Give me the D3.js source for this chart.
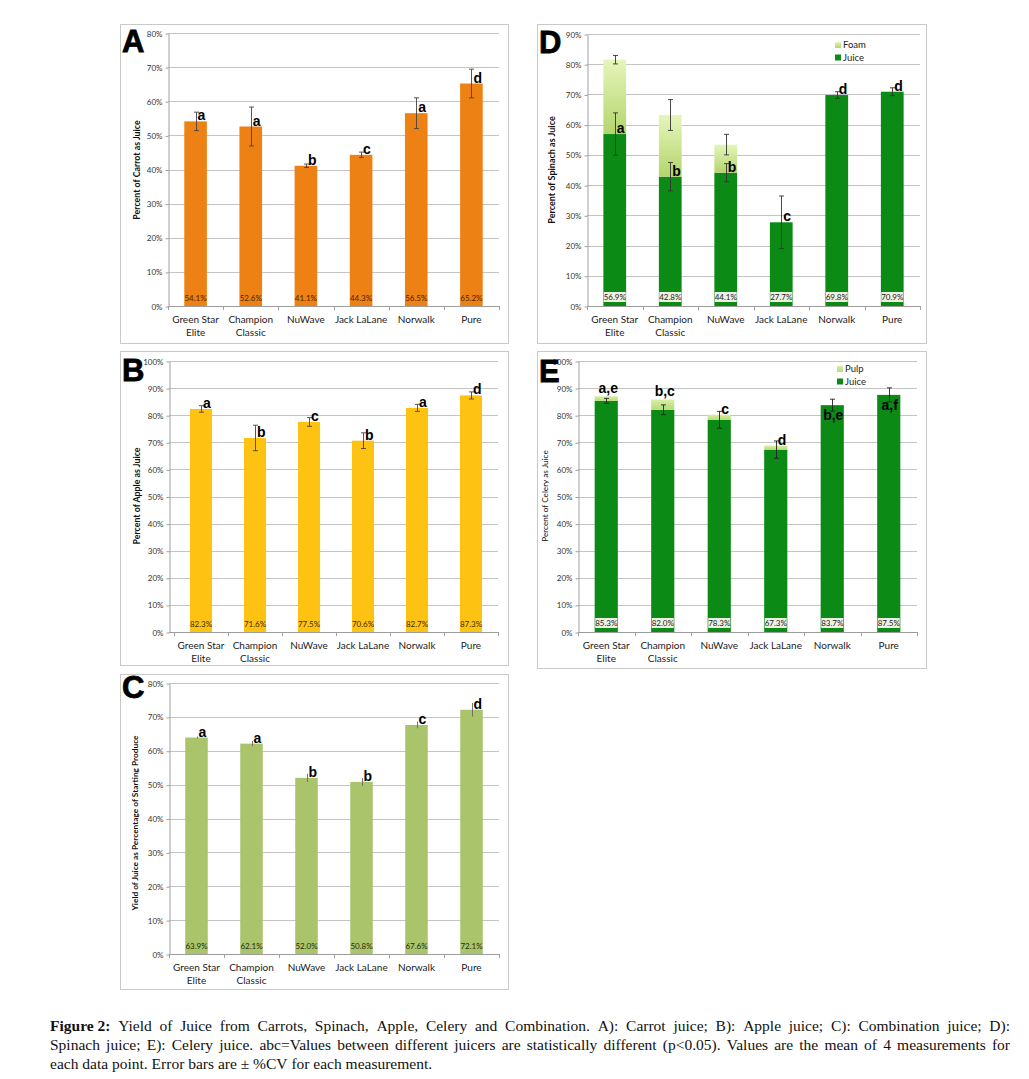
<!DOCTYPE html>
<html><head><meta charset="utf-8">
<script src="https://cdn.jsdelivr.net/npm/d3@7"></script>
<style>body{margin:0;background:#fff} svg{display:block}</style>
</head><body><svg id="fig" width="1029" height="1079"></svg>
<script>
// ---------- data ----------
const juicers = [["Green Star","Elite"],["Champion","Classic"],["NuWave"],["Jack LaLane"],["Norwalk"],["Pure"]];
const ticks80 = [0,10,20,30,40,50,60,70,80];
const ticks90 = [0,10,20,30,40,50,60,70,80,90];
const ticks100 = [0,10,20,30,40,50,60,70,80,90,100];

const carrotJuice = [54.1,52.6,41.1,44.3,56.5,65.2];
const carrotErr = [2.7,5.7,0.5,0.8,4.5,4.2];
const carrotLetters = ["a","a","b","c","a","d"];

const appleJuice = [82.3,71.6,77.5,70.6,82.7,87.3];
const appleErr = [1.2,4.7,1.6,2.9,1.3,1.3];
const appleLetters = ["a","b","c","b","a","d"];

const comboJuice = [63.9,62.1,52.0,50.8,67.6,72.1];
const comboErr = [0.3,0.8,1.2,1.1,1.0,2.0];
const comboLetters = ["a","a","b","b","c","d"];

const spinachJuice = [56.9,42.8,44.1,27.7,69.8,70.9];
const spinachJuiceErr = [7.0,4.7,3.0,8.7,1.1,1.3];
const spinachFoam = [24.6,20.4,9.3,0,0,0];
const spinachTotalErr = [1.4,5.1,3.4,0,0,0];
const spinachLetters = ["a","b","b","c","d","d"];

const celeryJuice = [85.3,82.0,78.3,67.3,83.7,87.5];
const celeryJuiceErr = [0.9,1.8,3.1,3.2,2.2,2.6];
const celeryPulp = [1.7,3.8,1.9,1.5,0,0];
const celeryLetters = ["a,e","b,c","c","d","b,e","a,f"];

const captionBold = "Figure 2:";
const captionLines = [
  "Yield of Juice from Carrots, Spinach, Apple, Celery and Combination. A): Carrot juice; B): Apple juice; C): Combination juice; D):",
  "Spinach juice; E): Celery juice. abc=Values between different juicers are statistically different (p<0.05). Values are the mean of 4 measurements for",
  "each data point. Error bars are \u00b1 %CV for each measurement."
];

// ---------- drawing ----------
const svg = d3.select("#fig");
const FONT = "Lato, 'Open Sans', sans-serif";
const defs = svg.append("defs");
function grad(id, top, bottom){
  const g = defs.append("linearGradient").attr("id",id).attr("x1",0).attr("y1",0).attr("x2",0).attr("y2",1);
  g.append("stop").attr("offset","0%").attr("stop-color",top);
  g.append("stop").attr("offset","100%").attr("stop-color",bottom);
}
grad("foamGrad","#e6f5bb","#b3d56c");
grad("pulpGrad","#d8efa8","#b6db78");

function panel(o){
  const g = svg.append("g");
  g.append("rect").attr("x",o.frame[0]+0.5).attr("y",o.frame[1]+0.5)
    .attr("width",o.frame[2]).attr("height",o.frame[3])
    .attr("fill","#fff").attr("stroke","#c9c9c9").attr("stroke-width",1);

  const x = d3.scaleBand().domain(d3.range(juicers.length)).range(o.xr);
  const y = d3.scaleLinear().domain([0,o.ymax]).range([o.y0,o.ytop]);
  const cx = i => x(i) + x.bandwidth()/2;
  const bw = x.bandwidth()*0.41;

  // gridlines
  g.selectAll(".grid").data(o.ticks.filter(t=>t>0)).join("line")
    .attr("x1",o.axisX).attr("x2",o.xr[1])
    .attr("y1",d=>Math.round(y(d))+0.5).attr("y2",d=>Math.round(y(d))+0.5)
    .attr("stroke","#c4c4c4").attr("stroke-width",1);

  // y axis
  const ya = d3.axisLeft(y).tickValues(o.ticks).tickFormat(d=>d+"%").tickSize(3).tickSizeOuter(0).tickPadding(3);
  const yg = g.append("g").attr("transform",`translate(${o.axisX+0.5},0.5)`).call(ya);
  yg.select(".domain").attr("stroke","#a0a0a0");
  yg.selectAll(".tick line").attr("stroke","#a0a0a0");
  yg.selectAll("text").attr("font-family",FONT).attr("font-size",8).attr("fill","#333");

  // x axis line + boundary ticks
  g.append("line").attr("x1",o.axisX).attr("x2",o.xr[1])
    .attr("y1",Math.round(o.y0)+0.5).attr("y2",Math.round(o.y0)+0.5)
    .attr("stroke","#9c9c9c");
  g.selectAll(".xt").data(d3.range(juicers.length+1)).join("line")
    .attr("x1",i=>Math.round(o.xr[0]+i*x.step())+0.5).attr("x2",i=>Math.round(o.xr[0]+i*x.step())+0.5)
    .attr("y1",o.y0).attr("y2",o.y0+4).attr("stroke","#a0a0a0");

  // category labels
  const cl = g.selectAll(".cat").data(juicers).join("text")
    .attr("font-family",FONT).attr("font-size",10).attr("fill","#222").attr("text-anchor","middle");
  cl.each(function(d,i){
    d3.select(this).selectAll("tspan").data(d).join("tspan")
      .attr("x",cx(i)).attr("y",(t,j)=>o.y0+17+j*12.5).text(t=>t);
  });

  // bars
  const base = o.values;
  g.selectAll(".bar").data(base).join("rect")
    .attr("x",(d,i)=>cx(i)-bw/2).attr("width",bw)
    .attr("y",d=>y(d)).attr("height",d=>o.y0-y(d)).attr("fill",o.color);
  if(o.top){
    g.selectAll(".bar2").data(o.top).join("rect")
      .attr("x",(d,i)=>cx(i)-bw/2).attr("width",bw)
      .attr("y",(d,i)=>y(base[i]+d)).attr("height",(d,i)=>y(base[i])-y(base[i]+d))
      .attr("fill",o.topFill).attr("display",d=>d>0?null:"none");
  }

  // value labels
  const vl = g.selectAll(".vl").data(base).join("g");
  if(o.labelBox){
    vl.append("rect").attr("x",(d,i)=>cx(i)-11).attr("width",22)
      .attr("y",o.y0-14).attr("height",10).attr("fill","#edf1e3");
  }
  vl.append("text").attr("x",(d,i)=>cx(i)).attr("y",o.y0-(o.labelBox?6.5:5))
    .attr("text-anchor","middle").attr("font-family",FONT).attr("font-size",8)
    .attr("fill",o.labelColor).text(d=>d.toFixed(1)+"%");

  // error bars
  function errbars(vals, errs, color, caps){
    const eg = g.append("g").attr("stroke",color).attr("stroke-width",0.9);
    vals.forEach((v,i)=>{
      const e = errs[i]; if(!e) return;
      const x0 = Math.round(cx(i))+0.5;
      eg.append("line").attr("x1",x0).attr("x2",x0).attr("y1",y(v-e)).attr("y2",y(v+e));
      if(caps){
        [v-e,v+e].forEach(t=>eg.append("line").attr("x1",x0-2.5).attr("x2",x0+2.5).attr("y1",y(t)).attr("y2",y(t)));
      }
    });
  }
  errbars(base, o.err, o.errColor, o.caps);
  if(o.topErr) errbars(base.map((v,i)=>v+o.top[i]), o.topErr, o.errColor, o.caps);

  // significance letters
  g.selectAll(".let").data(o.letters).join("text")
    .attr("font-family","'Liberation Sans', Arial, sans-serif").attr("font-weight","bold")
    .attr("font-size",14).attr("fill","#000")
    .each(function(d,i){
      const mode = o.letterModes ? o.letterModes[i] : "right";
      const ref = o.letterRef==="total" && o.top ? base[i]+o.top[i] : base[i];
      const t = d3.select(this).text(d);
      if(mode==="right") t.attr("x",cx(i)+2).attr("y",y(ref)-1).attr("text-anchor","start");
      else if(mode==="above") t.attr("x",cx(i)+2).attr("y",y(ref)-3).attr("text-anchor","middle");
      else t.attr("x",cx(i)+1).attr("y",y(ref)+15).attr("text-anchor","middle");
    });

  // y label
  g.append("text").attr("transform",`translate(${o.ylab[0]},${o.ylab[1]}) rotate(-90)`)
    .attr("text-anchor","middle").attr("font-family",FONT)
    .attr("font-weight",o.ylabBold?"bold":"normal").attr("font-size",o.ylabSize)
    .attr("fill","#111").text(o.ytitle);

  // legend
  if(o.legend){
    o.legend.forEach((l,k)=>{
      g.append("rect").attr("x",o.legendXY[0]).attr("y",o.legendXY[1]+k*12.5-6)
        .attr("width",6).attr("height",6).attr("fill",l[1]);
      g.append("text").attr("x",o.legendXY[0]+8).attr("y",o.legendXY[1]+k*12.5)
        .attr("font-family",FONT).attr("font-size",9.5).attr("fill","#222").text(l[0]);
    });
  }

  // panel letter
  g.append("text").attr("x",o.frame[0]+2).attr("y",o.bigY)
    .attr("font-family","'Liberation Sans', Arial, sans-serif").attr("font-weight","bold")
    .attr("font-size",31).attr("fill","#000").attr("stroke","#000").attr("stroke-width",0.8)
    .text(o.name);
}

panel({name:"A", frame:[120,24,388,319], axisX:168, xr:[168,499], y0:306, ytop:33, ymax:80, ticks:ticks80,
  values:carrotJuice, err:carrotErr, letters:carrotLetters, color:"#ee8114", labelColor:"#4a2200",
  errColor:"#444", caps:true, ytitle:"Percent of Carrot as Juice", ylab:[140,170], ylabBold:true, ylabSize:8.8, bigY:52});

panel({name:"B", frame:[120,351,388,314], axisX:169, xr:[174,498], y0:632, ytop:361, ymax:100, ticks:ticks100,
  values:appleJuice, err:appleErr, letters:appleLetters, color:"#fec212", labelColor:"#3d2c00",
  errColor:"#444", caps:true, ytitle:"Percent of Apple as Juice", ylab:[140,496], ylabBold:true, ylabSize:8.8, bigY:381});

panel({name:"C", frame:[120,674,388,315], axisX:169, xr:[169,499], y0:954, ytop:683, ymax:80, ticks:ticks80,
  values:comboJuice, err:comboErr, letters:comboLetters, color:"#a9c46b", labelColor:"#1f2a0a",
  errColor:"#666", caps:false, ytitle:"Yield of Juice as Percentage of Starting Produce", ylab:[138,823], ylabBold:true, ylabSize:8.3, bigY:698});

panel({name:"D", frame:[537,24,389,319], axisX:587, xr:[587,920], y0:306, ytop:34, ymax:90, ticks:ticks90,
  values:spinachJuice, err:spinachJuiceErr, top:spinachFoam, topErr:spinachTotalErr, topFill:"url(#foamGrad)",
  letters:spinachLetters, letterRef:"juice", color:"#0b8b16", labelColor:"#222", labelBox:true,
  errColor:"#333", caps:true, ytitle:"Percent of Spinach as Juice", ylab:[555,170], ylabBold:true, ylabSize:9,
  legend:[["Foam","url(#foamGrad)"],["Juice","#0b8b16"]], legendXY:[835,48], bigY:53});

panel({name:"E", frame:[537,351,389,317], axisX:578, xr:[578,917], y0:632, ytop:361, ymax:100, ticks:ticks100,
  values:celeryJuice, err:celeryJuiceErr, top:celeryPulp, topFill:"url(#pulpGrad)",
  letters:celeryLetters, letterRef:"total", letterModes:["above","above","right","right","inside","inside"],
  color:"#0b8b16", labelColor:"#222", labelBox:true,
  errColor:"#222", caps:true, ytitle:"Percent of Celery as Juice", ylab:[548,496], ylabBold:false, ylabSize:8.2,
  legend:[["Pulp","url(#pulpGrad)"],["Juice","#0b8b16"]], legendXY:[837,372], bigY:382});

// ---------- caption (justified) ----------
const capX0 = 50, capX1 = 1010, capFont = "'Liberation Serif', 'DejaVu Serif', serif", capSize = 15.5;
captionLines.forEach((line,li)=>{
  const words = (li===0 ? [captionBold+"\u0001"] : []).concat(line.split(" "));
  const yb = 1031 + li*19;
  const t = svg.append("text").attr("font-family",capFont).attr("font-size",capSize).attr("fill","#111");
  const spans = words.map(w=>{
    const bold = w.endsWith("\u0001");
    return t.append("tspan").attr("font-weight",bold?"bold":"normal").attr("y",yb).text(bold?w.slice(0,-1):w);
  });
  const widths = spans.map(s=>s.node().getComputedTextLength());
  const total = d3.sum(widths);
  const justify = li < captionLines.length-1;
  const gap = justify ? (capX1-capX0-total)/(words.length-1) : capSize*0.25;
  let xx = capX0;
  spans.forEach((s,k)=>{ s.attr("x",xx); xx += widths[k]+gap; });
});
</script></body></html>
